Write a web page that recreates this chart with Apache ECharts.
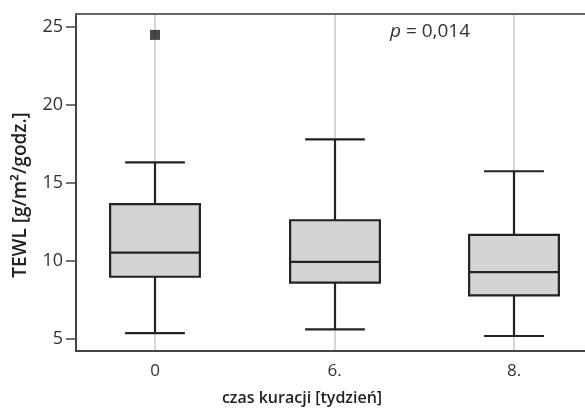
<!DOCTYPE html>
<html>
<head>
<meta charset="utf-8">
<script src="https://cdn.jsdelivr.net/npm/echarts@6/dist/echarts.min.js"></script>
<style>html,body{margin:0;padding:0;background:#fff;overflow:hidden}#c{width:600px;height:412px}</style>
</head>
<body>
<div id="c"></div>
<script>
const categories = ['0', '6.', '8.'];
const whiskerLow = [5.35, 5.6, 5.17];
const q1 = [8.97, 8.59, 7.78];
const median = [10.51, 9.92, 9.27];
const q3 = [13.63, 12.59, 11.65];
const whiskerHigh = [16.3, 17.78, 15.73];
const outliers = [[0, 24.47]];
const yTicks = [5, 10, 15, 20, 25];
const xTitle = 'czas kuracji [tydzień]';
const yTitle = 'TEWL [g/m²/godz.]';
const pText = '0,014';

const FONT = 'Open Sans';
const boxData = categories.map((c, i) => [i, whiskerLow[i], q1[i], median[i], q3[i], whiskerHigh[i]]);

function renderItem(params, api) {
  const x = api.value(0);
  const pLo = api.coord([x, api.value(1)]);
  const pQ1 = api.coord([x, api.value(2)]);
  const pMed = api.coord([x, api.value(3)]);
  const pQ3 = api.coord([x, api.value(4)]);
  const pHi = api.coord([x, api.value(5)]);
  const hb = api.size([0.5, 0])[0] / 2;
  const hc = api.size([0.333, 0])[0] / 2;
  const cx = Math.round(pMed[0]);
  const ls = { stroke: '#222', lineWidth: 2.2 };
  return {
    type: 'group',
    children: [
      { type: 'line', shape: { x1: cx, y1: pHi[1], x2: cx, y2: pQ3[1] }, style: ls },
      { type: 'line', shape: { x1: cx, y1: pLo[1], x2: cx, y2: pQ1[1] }, style: ls },
      { type: 'line', shape: { x1: cx - hc, y1: pHi[1], x2: cx + hc, y2: pHi[1] }, style: ls },
      { type: 'line', shape: { x1: cx - hc, y1: pLo[1], x2: cx + hc, y2: pLo[1] }, style: ls },
      { type: 'rect', shape: { x: cx - hb, y: pQ3[1], width: hb * 2, height: pQ1[1] - pQ3[1] },
        style: { fill: '#d3d4d6', stroke: '#222', lineWidth: 2.2 } },
      { type: 'line', shape: { x1: cx - hb, y1: pMed[1], x2: cx + hb, y2: pMed[1] }, style: ls }
    ]
  };
}

const chart = echarts.init(document.getElementById('c'), null, { renderer: 'canvas' });
chart.setOption({
  animation: false,
  textStyle: { fontFamily: FONT },
  grid: { left: 76, top: 14, bottom: 61, right: 7, show: false },
  xAxis: [{
    type: 'value', min: -0.44, max: 2.44,
    axisLine: { show: true, onZero: false, lineStyle: { color: '#444', width: 2 } },
    axisTick: { show: false, customValues: [0, 1, 2] },
    axisLabel: { customValues: [0, 1, 2], formatter: v => categories[Math.round(v)], color: '#333', fontSize: 17, margin: 12, fontFamily: FONT },
    splitLine: { show: true, lineStyle: { color: '#c8c8c8', width: 1.5 } }
  }, {
    type: 'value', position: 'top', min: -0.44, max: 2.44,
    axisLine: { show: true, onZero: false, lineStyle: { color: '#666', width: 2 } },
    axisTick: { show: false }, axisLabel: { show: false }, splitLine: { show: false }
  }],
  yAxis: {
    type: 'value', min: 4.21, max: 25.81,
    axisLine: { show: true, onZero: false, lineStyle: { color: '#444', width: 2 } },
    axisTick: { show: true, length: 10, customValues: yTicks, lineStyle: { color: '#444', width: 1.5 } },
    axisLabel: { customValues: yTicks, color: '#333', fontSize: 18, margin: 13, fontFamily: FONT },
    splitLine: { show: false }
  },
  series: [
    { type: 'custom', renderItem: renderItem, data: boxData, encode: { x: 0, y: [1, 2, 3, 4, 5] }, z: 3 },
    { type: 'scatter', data: outliers, symbol: 'rect', symbolSize: 10, itemStyle: { color: '#1a1a1a' }, z: 4 }
  ],
  graphic: [
    { type: 'text', left: 390, top: 22,
      style: { text: '{i|p} = ' + pText, fill: '#333', font: '19px "Open Sans"',
        rich: { i: { fontStyle: 'italic', fontSize: 19, fontFamily: FONT, fill: '#333' } } } },
    { type: 'text', x: 302, y: 398,
      style: { text: xTitle, fill: '#222', fontSize: 16, fontWeight: 600, fontFamily: FONT, align: 'center', verticalAlign: 'middle' } },
    { type: 'text', x: 21, y: 195, rotation: Math.PI / 2,
      style: { text: yTitle, fill: '#222', fontSize: 19, fontWeight: 600, fontFamily: FONT, align: 'center', verticalAlign: 'middle' } }
  ]
});
</script>
</body>
</html>
